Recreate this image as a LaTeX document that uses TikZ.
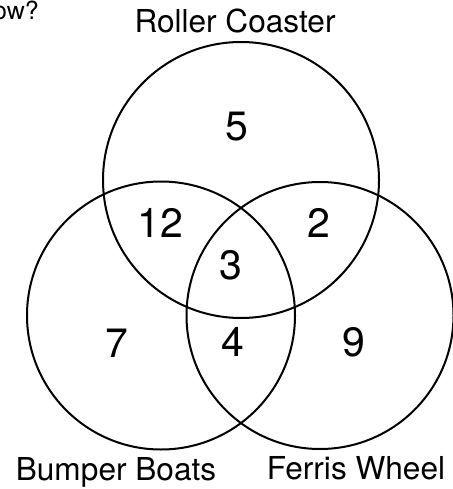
\documentclass[tikz,border=0pt]{standalone}
\usepackage{fontspec}
\setmainfont{TeX Gyre Heros}
\usetikzlibrary{positioning}

\begin{document}
\begin{tikzpicture}[
    x=1pt, y=-1pt,
    ring/.style={circle, draw=black, line width=2pt, inner sep=0pt},
    count/.style={font=\fontsize{41}{48}\selectfont, inner sep=0pt},
    setname/.style={font=\fontsize{31.6}{38}\selectfont, inner sep=0pt, anchor=base}
]
\useasboundingbox (0,0) rectangle (452,489);

% Circles
\node[ring, minimum size=276pt] (coaster) at (241,180) {};
\node[ring, minimum size=268pt] (boats) at (161,315.5) {};
\node[ring, minimum size=267pt] (wheel) at (320,315.5) {};

% Counts
\node[count] (onlyc) at (237,127) {5};
\node[count] (cb) at (160,223) {12};
\node[count] (cw) at (319,223) {2};
\node[count] (all) at (231,265) {3};
\node[count] (onlyb) at (117,343) {7};
\node[count] (bw) at (233,342) {4};
\node[count] (onlyw) at (354,342) {9};

% Labels
\node[setname] (lcoaster) at (235,33) {Roller Coaster};
\node[setname] (lboats) at (116,480) {Bumper Boats};
\node[setname] (lwheel) at (356,479) {Ferris Wheel};
\node[font=\fontsize{25}{30}\selectfont, inner sep=0pt, anchor=base east] (question) at (39,20) {ow?};

\end{tikzpicture}
\end{document}
